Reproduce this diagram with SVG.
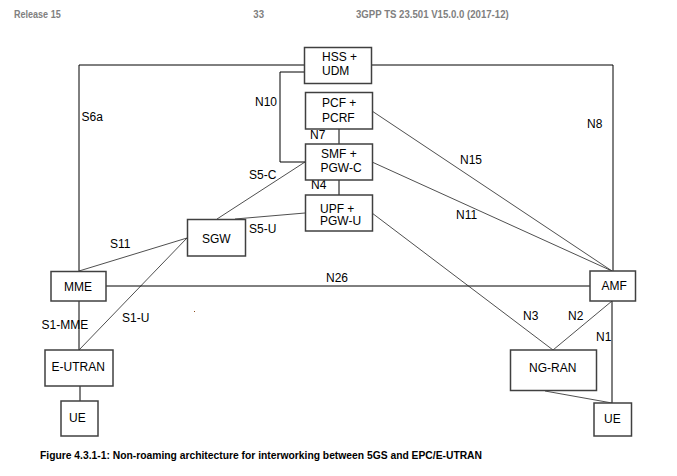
<svg xmlns="http://www.w3.org/2000/svg" width="677" height="476" viewBox="0 0 677 476">
<style>
.box{fill:#fff;stroke:#404040;stroke-width:1.5}
.t{font-family:"Liberation Sans",Arial,sans-serif;font-size:12px;fill:#000}
.ln{stroke:#000;stroke-width:1;fill:none}
.dl{stroke:#222;stroke-width:0.8;fill:none}
.hd{font-family:"Liberation Sans",Arial,sans-serif;font-size:10px;font-weight:bold;fill:#808080}
.cap{font-family:"Liberation Sans",Arial,sans-serif;font-size:10.5px;font-weight:bold;fill:#000}
</style>
<rect width="677" height="476" fill="#fff"/>
<g id="header">
<text class="hd" x="14" y="17.5" textLength="46.7" lengthAdjust="spacingAndGlyphs">Release 15</text>
<text class="hd" x="253.3" y="17.5" textLength="10.7" lengthAdjust="spacingAndGlyphs">33</text>
<text class="hd" x="356" y="17.5" textLength="152.7" lengthAdjust="spacingAndGlyphs">3GPP TS 23.501 V15.0.0 (2017-12)</text>
</g>
<g id="connectors">
<polyline class="ln" points="304,65 79,65 79,271"/>
<polyline class="ln" points="372,65 613,65 613,271"/>
<polyline class="ln" points="304,72 280,72 280,162 305,162"/>
<line class="ln" x1="339" y1="129" x2="339" y2="144"/>
<line class="ln" x1="339" y1="180" x2="339" y2="195"/>
<line class="dl" x1="305" y1="162" x2="217" y2="219"/>
<line class="dl" x1="235" y1="219" x2="305" y2="213"/>
<line class="dl" x1="79" y1="271" x2="187" y2="238"/>
<line class="dl" x1="79" y1="350" x2="187" y2="238"/>
<line class="ln" x1="79" y1="301" x2="79" y2="350"/>
<line class="ln" x1="80" y1="386" x2="80" y2="401"/>
<line class="ln" x1="106" y1="286" x2="590" y2="286"/>
<line class="dl" x1="372" y1="111" x2="612" y2="271"/>
<line class="dl" x1="372" y1="162" x2="612" y2="271"/>
<line class="dl" x1="372" y1="213" x2="553" y2="350"/>
<line class="dl" x1="612" y1="301" x2="553" y2="350"/>
<line class="ln" x1="612" y1="301" x2="612" y2="403"/>
<line class="dl" x1="545" y1="391" x2="612" y2="403"/>
<rect x="194" y="311" width="1" height="1" fill="#8a4a1a"/>
</g>
<g id="labels">
<text class="t" x="81.5" y="121">S6a</text>
<text class="t" x="255" y="105.5">N10</text>
<text class="t" x="310" y="139">N7</text>
<text class="t" x="311" y="188.5">N4</text>
<text class="t" x="249" y="179">S5-C</text>
<text class="t" x="249" y="233">S5-U</text>
<text class="t" x="110" y="248">S11</text>
<text class="t" x="326" y="281.5">N26</text>
<text class="t" x="41.5" y="329">S1-MME</text>
<text class="t" x="122" y="321.5">S1-U</text>
<text class="t" x="587" y="127.5">N8</text>
<text class="t" x="460" y="164">N15</text>
<text class="t" x="456" y="219">N11</text>
<text class="t" x="523" y="320">N3</text>
<text class="t" x="568" y="320">N2</text>
<text class="t" x="596" y="341">N1</text>
</g>
<g id="hss">
<rect class="box" x="304.5" y="47.5" width="67" height="36"/>
<text class="t" x="322" y="60.5">HSS +</text>
<text class="t" x="322" y="75">UDM</text>
</g>
<g id="pcf">
<rect class="box" x="305.5" y="92.5" width="67" height="36.5"/>
<text class="t" x="322" y="106.5">PCF +</text>
<text class="t" x="322" y="121.5">PCRF</text>
</g>
<g id="smf">
<rect class="box" x="305.5" y="144" width="67" height="36"/>
<text class="t" x="321" y="158">SMF +</text>
<text class="t" x="320.5" y="172">PGW-C</text>
</g>
<g id="upf">
<rect class="box" x="305.5" y="195" width="67" height="36"/>
<text class="t" x="320" y="212.5">UPF +</text>
<text class="t" x="320" y="225">PGW-U</text>
</g>
<g id="sgw">
<rect class="box" x="187.5" y="219.5" width="58" height="36.5"/>
<text class="t" x="202" y="242.5">SGW</text>
</g>
<g id="mme">
<rect class="box" x="51" y="271.5" width="55" height="29.5"/>
<text class="t" x="64" y="290.5">MME</text>
</g>
<g id="eutran">
<rect class="box" x="45" y="350" width="68" height="36"/>
<text class="t" x="51.5" y="370.5">E-UTRAN</text>
</g>
<g id="ue-left">
<rect class="box" x="61" y="401" width="37" height="35"/>
<text class="t" x="69" y="421.5">UE</text>
</g>
<g id="amf">
<rect class="box" x="590" y="271" width="45.5" height="30"/>
<text class="t" x="601.5" y="290">AMF</text>
</g>
<g id="ngran">
<rect class="box" x="510.5" y="350" width="86" height="40.5"/>
<text class="t" x="529" y="372">NG-RAN</text>
</g>
<g id="ue-right">
<rect class="box" x="594" y="403" width="37.5" height="33"/>
<text class="t" x="604" y="422.5">UE</text>
</g>
<g id="caption">
<text class="cap" x="40" y="459" textLength="442" lengthAdjust="spacingAndGlyphs">Figure 4.3.1-1: Non-roaming architecture for interworking between 5GS and EPC/E-UTRAN</text>
</g>
</svg>
